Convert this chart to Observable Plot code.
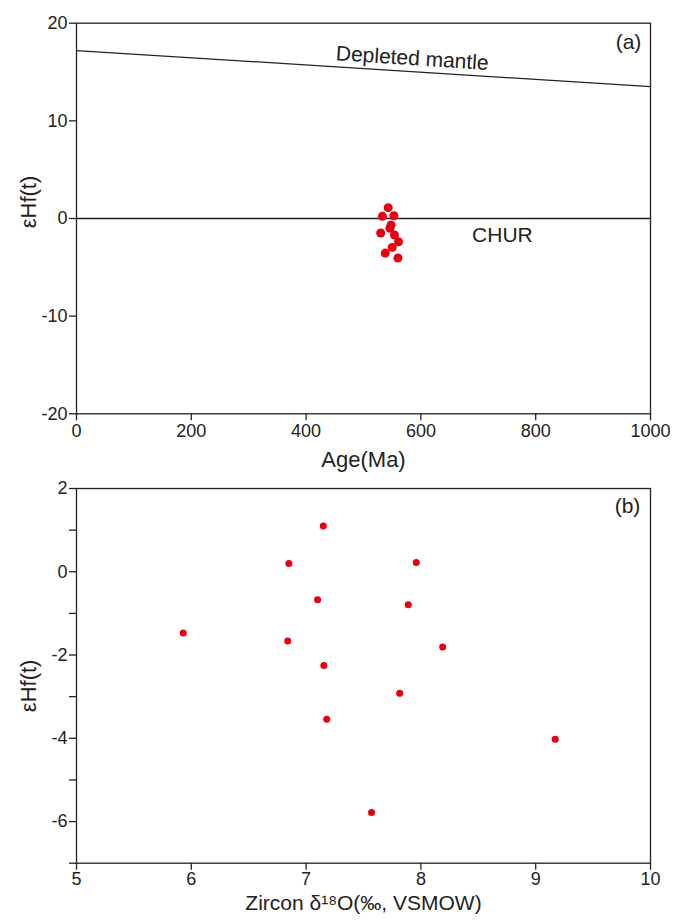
<!DOCTYPE html>
<html>
<head>
<meta charset="utf-8">
<script src="https://cdn.jsdelivr.net/npm/d3@7"></script>
<script src="https://cdn.jsdelivr.net/npm/@observablehq/plot@0.6"></script>
<style>
  html, body { margin: 0; padding: 0; background: #fff; }
  #chart { width: 673px; }
  #chart svg { display: block; }
</style>
</head>
<body>
<div id="chart"></div>
<script>
// Panel (a): εHf(t) vs Age
const ageA = [543, 533, 553, 548, 546, 530, 554, 561, 550, 538, 560];
const ehfA = [1.11, 0.22, 0.28, -0.67, -1.0, -1.49, -1.69, -2.38, -2.96, -3.54, -4.05];
const dmAge = [0, 1000];
const dmEhf = [17.2, 13.5];
const churEhf = [0];
const xTicksA = [0, 200, 400, 600, 800, 1000];
const yTicksA = [-20, -10, 0, 10, 20];

// Panel (b): εHf(t) vs zircon δ18O
const d18oB = [7.15, 6.85, 7.96, 7.10, 7.89, 5.93, 6.84, 8.19, 7.155, 7.815, 7.18, 9.17, 7.57];
const ehfB = [1.10, 0.20, 0.22, -0.67, -0.79, -1.47, -1.66, -1.81, -2.25, -2.92, -3.54, -4.02, -5.78];
const xTicksB = [5, 6, 7, 8, 9, 10];
const yTicksB = [-7, -6, -5, -4, -3, -2, -1, 0, 1, 2];
const yLabelsB = [2, 0, -2, -4, -6];

const font = "'Liberation Sans', Arial, sans-serif";
const ink = "#222";
const red = "#e60012";

const plotA = Plot.plot({
  width: 673, height: 476,
  marginLeft: 76, marginRight: 23, marginTop: 22.7, marginBottom: 62.7,
  x: {domain: [0, 1000]},
  y: {domain: [-20, 20]},
  style: {fontFamily: font, background: "#fff", color: ink},
  marks: [
    Plot.frame({stroke: ink, strokeWidth: 1.3}),
    Plot.axisX({ticks: xTicksA, tickSize: 7, tickPadding: 3, fontSize: 18, label: null, tickFormat: d => String(d), strokeWidth: 1.3}),
    Plot.axisY({ticks: yTicksA, tickSize: 7, tickPadding: 2, fontSize: 18, label: null, tickFormat: d => String(d), strokeWidth: 1.3}),
    Plot.line(dmAge.map((a, i) => ({a, e: dmEhf[i]})), {x: "a", y: "e", stroke: ink, strokeWidth: 1.2}),
    Plot.ruleY(churEhf, {stroke: ink, strokeWidth: 1.3}),
    Plot.dot(ageA.map((a, i) => ({a, e: ehfA[i]})), {x: "a", y: "e", r: 4.5, fill: red, stroke: "none"}),
    Plot.text(["Depleted mantle"], {x: [585], y: [16.4], text: d => d, rotate: 3.7, fontSize: 21, fill: ink, textAnchor: "middle"}),
    Plot.text(["CHUR"], {x: [742], y: [-1.74], text: d => d, fontSize: 21, fill: ink, textAnchor: "middle"}),
    Plot.text(["(a)"], {frameAnchor: "top-right", text: d => d, dx: -22, dy: 19, fontSize: 21, fill: ink, textAnchor: "middle", lineAnchor: "middle"}),
    Plot.text(["Age(Ma)"], {frameAnchor: "bottom", text: d => d, dy: 46, fontSize: 22, fill: ink, textAnchor: "middle", lineAnchor: "middle"}),
    Plot.text(["εHf(t)"], {frameAnchor: "left", text: d => d, rotate: -90, dx: -48, dy: -16.5, fontSize: 22, fill: ink, textAnchor: "middle", lineAnchor: "middle"})
  ]
});

const plotB = Plot.plot({
  width: 673, height: 445,
  marginLeft: 76, marginRight: 23, marginTop: 12, marginBottom: 58.3,
  x: {domain: [5, 10]},
  y: {domain: [-7, 2]},
  style: {fontFamily: font, background: "#fff", color: ink},
  marks: [
    Plot.frame({stroke: ink, strokeWidth: 1.3}),
    Plot.axisX({ticks: xTicksB, tickSize: 7, tickPadding: 2, fontSize: 18, label: null, tickFormat: d => String(d), strokeWidth: 1.3}),
    Plot.axisY({ticks: yTicksB, tickSize: 7, tickPadding: 2, fontSize: 18, label: null, tickFormat: d => yLabelsB.includes(d) ? String(d) : "", strokeWidth: 1.3}),
    Plot.dot(d18oB.map((o, i) => ({o, e: ehfB[i]})), {x: "o", y: "e", r: 3.5, fill: red, stroke: "none"}),
    Plot.text(["(b)"], {frameAnchor: "top-right", text: d => d, dx: -23, dy: 18, fontSize: 21, fill: ink, textAnchor: "middle", lineAnchor: "middle"}),
    Plot.text(["Zircon δ¹⁸O(‰, VSMOW)"], {frameAnchor: "bottom", text: d => d, dy: 40, fontSize: 21, fill: ink, textAnchor: "middle", lineAnchor: "middle"}),
    Plot.text(["εHf(t)"], {frameAnchor: "left", text: d => d, rotate: -90, dx: -48, dy: 10, fontSize: 22, fill: ink, textAnchor: "middle", lineAnchor: "middle"})
  ]
});

const chart = document.getElementById("chart");
chart.appendChild(plotA);
chart.appendChild(plotB);
</script>
</body>
</html>
